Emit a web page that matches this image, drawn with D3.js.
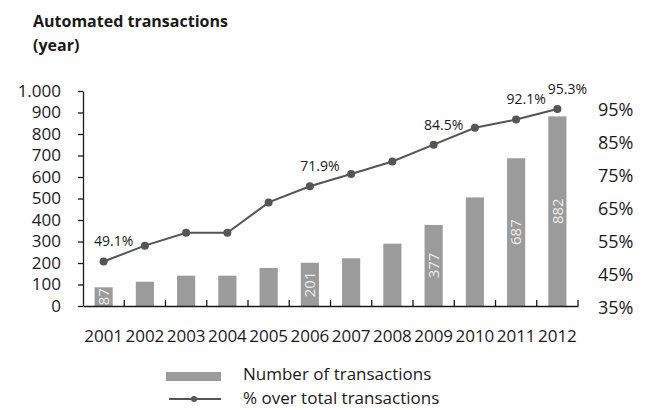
<!DOCTYPE html>
<html>
<head>
<meta charset="utf-8">
<script src="https://cdn.jsdelivr.net/npm/d3@7"></script>
<style>
  body { margin: 0; background: #fff; }
  svg { display: block; font-family: "Open Sans", sans-serif; }
</style>
</head>
<body>
<div id="chart"></div>
<script>
// data
const years = ["2001", "2002", "2003", "2004", "2005", "2006", "2007", "2008", "2009", "2010", "2011", "2012"];
const transactions = [87, 113, 141, 141, 177, 201, 222, 290, 377, 505, 687, 882];
const pctOverTotal = [49.1, 53.9, 57.8, 57.8, 67.0, 71.9, 75.6, 79.4, 84.5, 89.6, 92.1, 95.3];
const labeledYears = ["2001", "2006", "2009", "2011", "2012"];
const leftTicks = [0, 100, 200, 300, 400, 500, 600, 700, 800, 900, 1000];
const rightTicks = [35, 45, 55, 65, 75, 85, 95];

let height = 410,
  width = 649;

const data = years.map((y, i) => ({ year: y, n: transactions[i], pct: pctOverTotal[i] }));

const svg = d3.select("#chart")
  .append("svg")
  .attr("width", width)
  .attr("height", height);

const fmt = d3.formatLocale({ decimal: ",", thousands: ".", grouping: [3], currency: ["", ""] }).format(",d");

let x = d3.scaleBand()
  .domain(years)
  .range([83, 578])
  .paddingInner(0.56)
  .paddingOuter(0.28);

let y = d3.scaleLinear()
  .domain([0, 1000])
  .range([306, 91]);

let yPct = d3.scaleLinear()
  .domain([35, 95])
  .range([308, 110]);

// title
svg.append("text")
  .attr("x", 33)
  .attr("y", 27)
  .attr("font-size", 16)
  .attr("font-weight", "bold")
  .attr("fill", "#1a1a1a")
  .text("Automated transactions");

svg.append("text")
  .attr("x", 33)
  .attr("y", 51)
  .attr("font-size", 16)
  .attr("font-weight", "bold")
  .attr("fill", "#1a1a1a")
  .text("(year)");

// left axis
const yAxis = svg.append("g")
  .attr("transform", "translate(83,0)")
  .call(d3.axisLeft(y).tickValues(leftTicks).tickFormat(fmt).tickSize(5).tickSizeOuter(0).tickPadding(17));
yAxis.selectAll("text").attr("font-size", 17).attr("font-family", "Open Sans").attr("fill", "#1a1a1a");
yAxis.selectAll("line, path").attr("stroke", "#1a1a1a").attr("stroke-width", 1.3);

// bars
svg.append("g")
  .attr("fill", "#9b9b9b")
  .selectAll("rect")
  .data(data)
  .join("rect")
  .attr("x", d => x(d.year))
  .attr("y", d => y(d.n))
  .attr("width", x.bandwidth())
  .attr("height", d => y(0) - y(d.n));

// values inside bars
svg.append("g")
  .selectAll("text")
  .data(data.filter(d => labeledYears.includes(d.year)))
  .join("text")
  .attr("transform", d => `translate(${x(d.year) + x.bandwidth() / 2},${(y(d.n) + y(0)) / 2}) rotate(-90)`)
  .attr("text-anchor", "middle")
  .attr("dy", "0.35em")
  .attr("font-size", 15)
  .attr("fill", "#ececec")
  .text(d => d.n);

// bottom axis
const xAxis = svg.append("g")
  .attr("transform", `translate(0,${y(0)})`)
  .call(d3.axisBottom(x).tickSize(0).tickPadding(24));
xAxis.selectAll("text").attr("font-size", 17).attr("font-family", "Open Sans").attr("fill", "#1a1a1a");
xAxis.select(".domain").attr("stroke", "#1a1a1a").attr("stroke-width", 1.3);

// ticks between the categories, pointing up
const gap = (x.step() - x.bandwidth()) / 2;
xAxis.selectAll(".sep")
  .data(years)
  .join("line")
  .attr("class", "sep")
  .attr("x1", d => x(d) + x.bandwidth() + gap)
  .attr("x2", d => x(d) + x.bandwidth() + gap)
  .attr("y1", 0)
  .attr("y2", -6)
  .attr("stroke", "#1a1a1a")
  .attr("stroke-width", 1.3);

// right axis
const yAxisRight = svg.append("g")
  .attr("transform", "translate(590,0)")
  .call(d3.axisRight(yPct).tickValues(rightTicks).tickFormat(d => d + "%").tickSize(0).tickPadding(8));
yAxisRight.select(".domain").remove();
yAxisRight.selectAll("text").attr("font-size", 18).attr("font-family", "Open Sans").attr("fill", "#1a1a1a");

// line
const line = d3.line()
  .x(d => x(d.year) + x.bandwidth() / 2)
  .y(d => yPct(d.pct));

svg.append("path")
  .datum(data)
  .attr("fill", "none")
  .attr("stroke", "#555")
  .attr("stroke-width", 2)
  .attr("d", line);

svg.append("g")
  .attr("fill", "#555")
  .selectAll("circle")
  .data(data)
  .join("circle")
  .attr("cx", d => x(d.year) + x.bandwidth() / 2)
  .attr("cy", d => yPct(d.pct))
  .attr("r", 4);

// percentage labels
svg.append("g")
  .selectAll("text")
  .data(data.filter(d => labeledYears.includes(d.year)))
  .join("text")
  .attr("x", d => x(d.year) + x.bandwidth() / 2 + 10)
  .attr("y", d => yPct(d.pct) - 20)
  .attr("dy", "0.35em")
  .attr("text-anchor", "middle")
  .attr("font-size", 14)
  .attr("fill", "#1a1a1a")
  .text(d => d3.format(".1f")(d.pct) + "%");

// legend
const legend = svg.append("g");
legend.append("rect")
  .attr("x", 166).attr("y", 372)
  .attr("width", 55).attr("height", 9)
  .attr("fill", "#9b9b9b");
legend.append("line")
  .attr("x1", 169).attr("x2", 221)
  .attr("y1", 399).attr("y2", 399)
  .attr("stroke", "#555").attr("stroke-width", 2);
legend.append("circle")
  .attr("cx", 194).attr("cy", 399).attr("r", 3)
  .attr("fill", "#555");
legend.append("text")
  .attr("x", 243).attr("y", 380)
  .attr("font-size", 17).attr("fill", "#1a1a1a")
  .text("Number of transactions");
legend.append("text")
  .attr("x", 243).attr("y", 404)
  .attr("font-size", 17).attr("fill", "#1a1a1a")
  .text("% over total transactions");
</script>
</body>
</html>
